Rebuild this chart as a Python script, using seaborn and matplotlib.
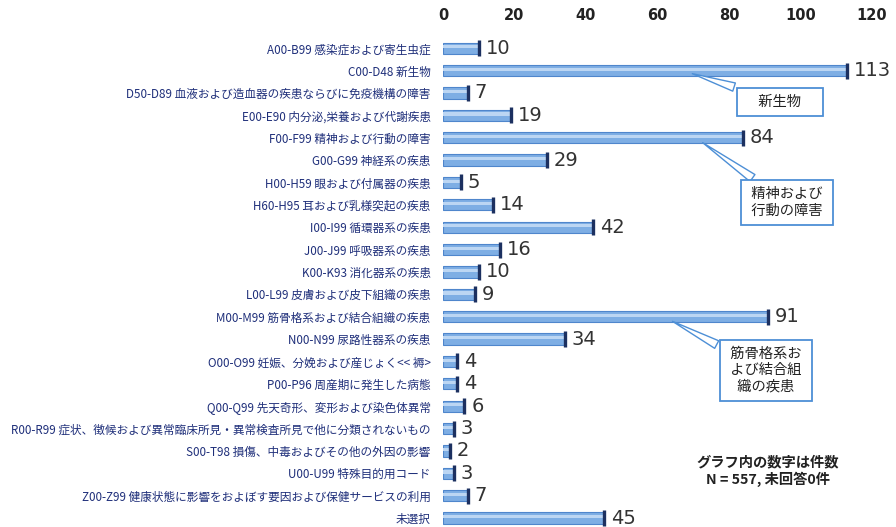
import matplotlib
matplotlib.use("Agg")
import matplotlib.pyplot as plt
import seaborn as sns
import pandas as pd

categories = [
    "A00-B99 感染症および寄生虫症",
    "C00-D48 新生物",
    "D50-D89 血液および造血器の疾患ならびに免疫機構の障害",
    "E00-E90 内分泌,栄養および代謝疾患",
    "F00-F99 精神および行動の障害",
    "G00-G99 神経系の疾患",
    "H00-H59 眼および付属器の疾患",
    "H60-H95 耳および乳様突起の疾患",
    "I00-I99 循環器系の疾患",
    "J00-J99 呼吸器系の疾患",
    "K00-K93 消化器系の疾患",
    "L00-L99 皮膚および皮下組織の疾患",
    "M00-M99 筋骨格系および結合組織の疾患",
    "N00-N99 尿路性器系の疾患",
    "O00-O99 妊娠、分娩および産じょく<< 褥>",
    "P00-P96 周産期に発生した病態",
    "Q00-Q99 先天奇形、変形および染色体異常",
    "R00-R99 症状、徴候および異常臨床所見・異常検査所見で他に分類されないもの",
    "S00-T98 損傷、中毒およびその他の外因の影響",
    "U00-U99 特殊目的用コード",
    "Z00-Z99 健康状態に影響をおよぼす要因および保健サービスの利用",
    "未選択",
]
values = [10, 113, 7, 19, 84, 29, 5, 14, 42, 16, 10, 9, 91, 34, 4, 4, 6, 3, 2, 3, 7, 45]
x_ticks = [0, 20, 40, 60, 80, 100, 120]
callouts = [
    ("C00-D48 新生物", "　新生物　"),
    ("F00-F99 精神および行動の障害", " 精神および \n 行動の障害 "),
    ("M00-M99 筋骨格系および結合組織の疾患", " 筋骨格系お \n よび結合組 \n 織の疾患 "),
]
note = "グラフ内の数字は件数\nN = 557, 未回答0件"

sns.set_theme(style="white")
plt.rcParams["font.family"] = ["Noto Sans CJK JP", "DejaVu Sans"]

df = pd.DataFrame({"cat": categories, "val": values})

fig = plt.figure(figsize=(8.96, 5.27), dpi=100)
ax = fig.add_axes([443 / 896, 0.0, (872 - 443) / 896, 1 - 37 / 527])

sns.barplot(data=df, x="val", y="cat", orient="h", color="#7eaee4",
            edgecolor="#4f86cc", linewidth=0.8, width=0.5, saturation=1, ax=ax)
n = len(values)
# lighter highlight band on each bar
sns.barplot(data=df, x="val", y="cat", orient="h", color="#bcd6f3",
            linewidth=0, width=0.14, saturation=1, ax=ax)
for p in ax.patches[n:]:
    p.set_y(p.get_y() - 0.06)
# dark end caps
ypos = list(range(n))
ax.scatter(values, ypos, marker="|", s=120, linewidths=2.4, color="#1c3060", zorder=5)

for v, y in zip(values, ypos):
    ax.text(v + 1.9, y, str(v), va="center", ha="left", fontsize=14,
            color="#333333", family=["DejaVu Sans"])

ax.set_xlim(0, 120)
ax.set_ylim(21.4, -0.5)
ax.set_xticks(x_ticks)
ax.xaxis.tick_top()
ax.tick_params(axis="x", length=0, pad=10, labelsize=10.5, labelcolor="#222222")
for lbl in ax.get_xticklabels():
    lbl.set_fontweight("bold")
    lbl.set_family(["DejaVu Sans"])
ax.tick_params(axis="y", length=0, pad=9, labelsize=8.4, labelcolor="#1f2f7a")
ax.set_xlabel("")
ax.set_ylabel("")
for s in ax.spines.values():
    s.set_visible(False)

# callouts: (pointer tip x, pointer tip y offset, box centre x, box centre y)
offsets = {
    "C00-D48 新生物": (69, 0.1, 94.3, 2.4),
    "F00-F99 精神および行動の障害": (72, 0.15, 96.2, 6.9),
    "M00-M99 筋骨格系および結合組織の疾患": (63.5, 0.15, 90.3, 14.4),
}
for cat, txt in callouts:
    i = categories.index(cat)
    px, dy, tx, ty = offsets[cat]
    ax.annotate(txt, xy=(px, i + dy), xytext=(tx, ty),
                ha="center", va="center", fontsize=10.3, color="#222222",
                linespacing=1.2,
                bbox=dict(boxstyle="square,pad=0.5", fc="white", ec="#4d8fd6", lw=1.3),
                arrowprops=dict(arrowstyle="wedge,tail_width=0.6,shrink_factor=0.5",
                                fc="white", ec="#4d8fd6", lw=1.0),
                zorder=6)

fig.text(768 / 896, 1 - 471 / 527, note, ha="center", va="center",
         fontsize=10.3, fontweight="bold", color="#222222", linespacing=1.2)

fig.savefig("out.png", dpi=100)
